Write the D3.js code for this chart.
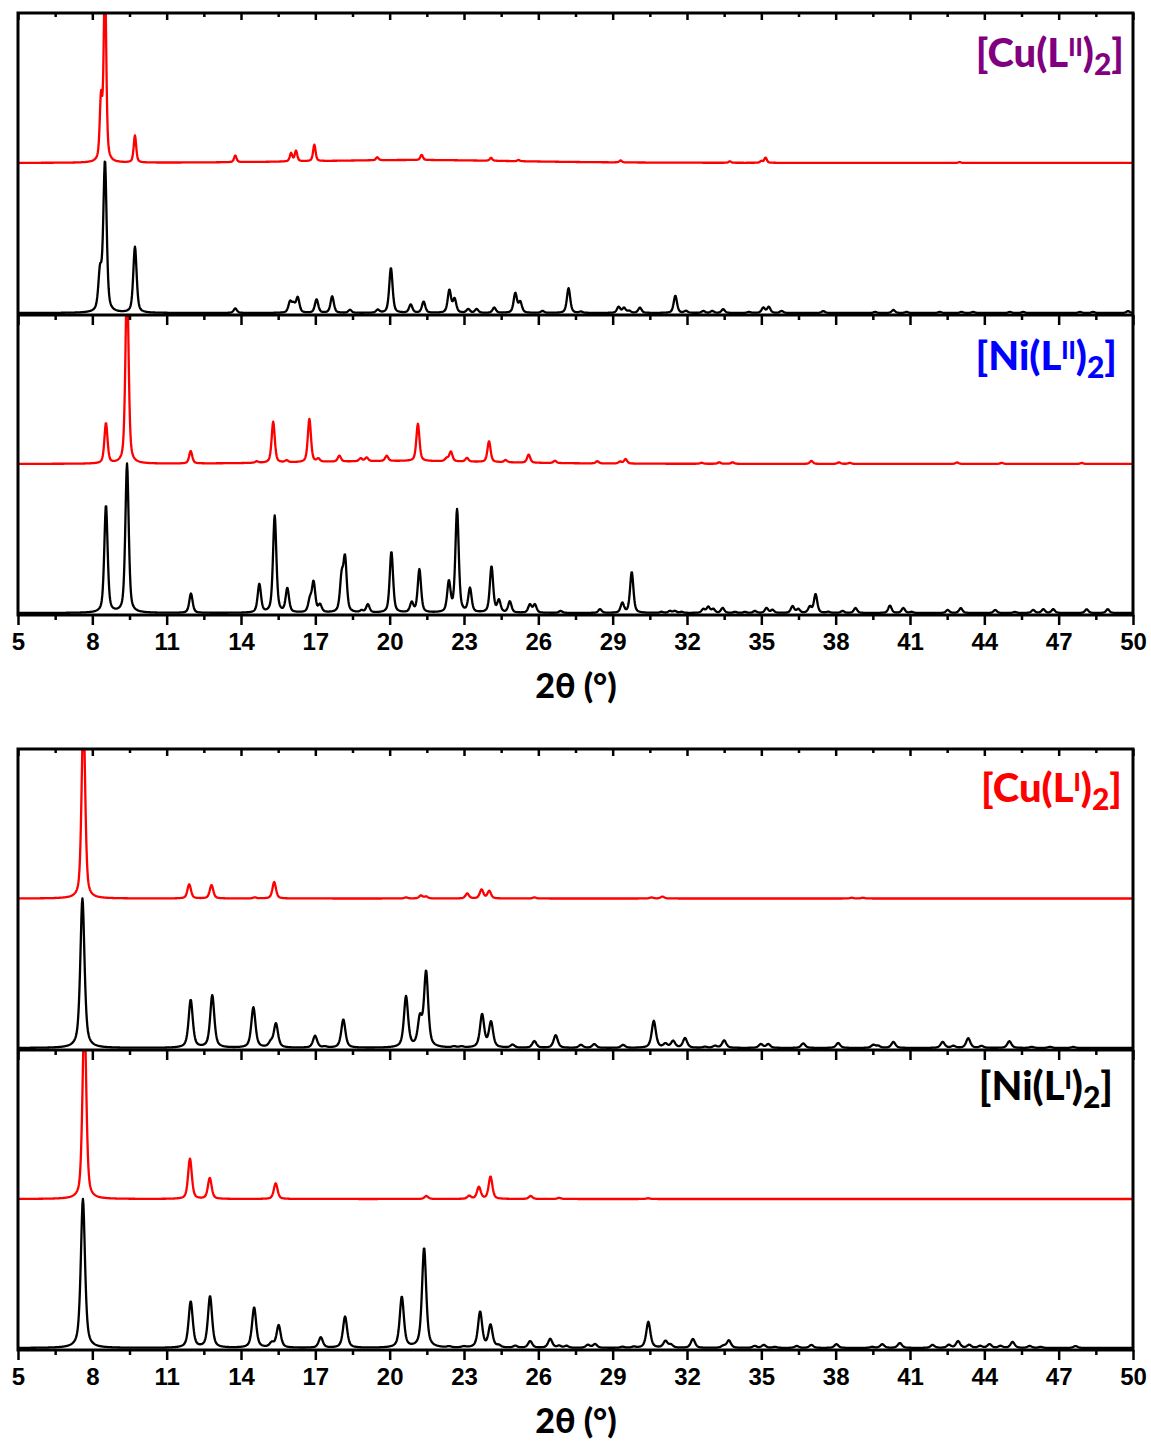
<!DOCTYPE html>
<html>
<head>
<meta charset="utf-8">
<script src="https://cdn.jsdelivr.net/npm/d3@7"></script>
<style>
body { margin: 0; background: #fff; }
svg { display: block; font-family: Lato, "Open Sans", sans-serif; font-weight: 900; }
</style>
</head>
<body>
<script>
// peak lists: [2theta, relative height, (optional fwhm)]
const cuL2ExpPeaks = [[8.35,0.4],[8.51,1.25],[9.72,0.18],[13.77,0.045],[16.02,0.055],[16.22,0.07],[16.96,0.11],[19.5,0.02],[21.29,0.035],[24.09,0.02],[25.2,0.008],[29.32,0.013],[33.73,0.01],[35.0,0.012],[35.17,0.035],[43.0,0.006],[21,0.02,10]];
const cuL2SimPeaks = [[8.31,0.25],[8.51,1.0],[9.72,0.44],[13.77,0.03],[15.98,0.07],[16.12,0.05],[16.29,0.1],[17.05,0.09],[17.68,0.11],[18.4,0.02],[19.52,0.02],[20.05,0.3],[20.85,0.055],[21.37,0.075],[22.41,0.15],[22.62,0.09],[23.17,0.025],[23.51,0.025],[24.22,0.035],[25.07,0.13],[25.27,0.07],[26.17,0.013],[27.22,0.165],[27.72,0.008],[29.24,0.04],[29.46,0.033],[29.67,0.013],[30.1,0.035],[31.53,0.115],[31.96,0.013],[32.66,0.013],[33.02,0.013],[33.46,0.025],[34.5,0.007],[35.08,0.035],[35.3,0.04],[35.82,0.013],[37.5,0.013],[39.59,0.007],[40.33,0.02],[40.86,0.007],[42.2,0.007],[43.08,0.007],[43.55,0.007],[45.03,0.007],[45.57,0.007],[47.86,0.007],[48.39,0.007],[49.8,0.013]];
const niL2ExpPeaks = [[8.55,0.27],[9.40,1.25],[11.97,0.083],[14.63,0.01],[15.3,0.275],[15.84,0.013],[16.76,0.29],[17.12,0.02],[17.97,0.04],[18.83,0.02],[19.07,0.025],[19.88,0.035],[21.14,0.25],[22.3,0.02],[22.47,0.065],[23.12,0.025],[24.01,0.14],[24.68,0.015],[25.61,0.055],[26.67,0.015],[28.38,0.015],[29.3,0.013],[29.52,0.03],[32.59,0.007],[33.3,0.01],[33.84,0.01],[37.02,0.02],[38.13,0.01],[38.57,0.007],[42.9,0.01],[44.7,0.007],[47.93,0.007],[20.5,0.02,9]];
const niL2SimPeaks = [[8.55,0.72],[9.40,1.0],[11.98,0.13],[14.74,0.19],[15.36,0.65],[15.87,0.16],[16.78,0.08],[16.93,0.2],[17.19,0.05],[18.06,0.22],[18.2,0.35],[18.87,0.013],[19.12,0.055],[20.07,0.41],[20.89,0.065],[21.2,0.29],[22.39,0.2],[22.72,0.69],[23.24,0.16],[24.11,0.31],[24.41,0.08],[24.85,0.075],[25.66,0.055],[25.86,0.055],[26.9,0.013],[28.49,0.025],[29.39,0.065],[29.77,0.275],[30.97,0.007],[31.31,0.013],[31.51,0.013],[31.78,0.007],[32.66,0.025],[32.86,0.04],[33.06,0.025],[33.44,0.033],[33.94,0.007],[34.34,0.007],[34.74,0.013],[35.21,0.033],[35.45,0.02],[36.26,0.045],[36.49,0.025],[36.96,0.04],[37.19,0.125],[37.7,0.007],[38.28,0.013],[38.8,0.033],[40.19,0.05],[40.73,0.033],[41.06,0.007],[42.52,0.02],[43.05,0.033],[44.44,0.02],[45.23,0.007],[45.97,0.02],[46.38,0.025],[46.78,0.025],[48.13,0.025],[48.98,0.025]];
const cuL1ExpPeaks = [[7.64,1.25],[11.91,0.095],[12.81,0.09],[14.56,0.007],[15.34,0.11],[20.66,0.007],[21.26,0.02],[21.47,0.013],[23.13,0.033],[23.71,0.06],[24.02,0.05],[25.84,0.007],[30.57,0.007],[31.01,0.013],[38.65,0.005],[39.1,0.005]];
const cuL1SimPeaks = [[7.6,1.0],[11.97,0.32],[12.84,0.35],[14.5,0.27],[15.2,0.03],[15.41,0.16],[16.99,0.08],[17.39,0.007],[18.13,0.19],[20.66,0.34],[21.22,0.18],[21.47,0.5],[22.6,0.007],[22.9,0.007],[23.73,0.22],[24.09,0.17],[24.96,0.02],[25.84,0.045],[26.7,0.085],[27.72,0.02],[28.26,0.025],[29.42,0.02],[30.66,0.18],[31.13,0.025],[31.44,0.045],[31.92,0.065],[32.73,0.007],[33.13,0.013],[33.5,0.05],[34.98,0.025],[35.28,0.025],[36.69,0.03],[38.1,0.033],[39.52,0.02],[39.72,0.013],[40.33,0.04],[42.32,0.04],[42.75,0.013],[43.35,0.065],[43.89,0.013],[45.01,0.045],[45.91,0.007],[46.65,0.007],[47.59,0.007]];
const niL1ExpPeaks = [[7.68,1.25],[11.94,0.27],[12.74,0.14],[15.4,0.105],[21.48,0.02],[23.21,0.02],[23.6,0.08],[24.07,0.15],[25.69,0.02],[26.84,0.007],[30.43,0.005]];
const niL1SimPeaks = [[7.62,1.0],[11.97,0.31],[12.75,0.345],[14.53,0.27],[15.24,0.03],[15.52,0.15],[17.22,0.07],[18.2,0.21],[20.49,0.34],[21.39,0.67],[22.4,0.007],[22.99,0.007],[23.65,0.24],[24.07,0.15],[24.4,0.013],[25.07,0.013],[25.67,0.045],[26.48,0.06],[26.84,0.013],[27.14,0.013],[28.0,0.02],[28.29,0.025],[29.4,0.007],[29.85,0.007],[30.44,0.175],[31.13,0.045],[31.35,0.02],[32.24,0.06],[33.47,0.013],[33.69,0.05],[34.73,0.013],[35.1,0.02],[35.55,0.007],[36.43,0.013],[37.02,0.02],[38.03,0.025],[39.47,0.007],[39.88,0.025],[40.59,0.033],[41.91,0.02],[42.57,0.02],[42.94,0.045],[43.39,0.02],[43.83,0.013],[44.21,0.025],[44.65,0.013],[45.14,0.04],[45.83,0.013],[46.27,0.007],[47.68,0.013]];

const xTickValues = [5,8,11,14,17,20,23,26,29,32,35,38,41,44,47,50];
const labelMetals = ["Cu","Ni","Cu","Ni"];
const labelLigands = ["II","II","I","I"];
const axisTitle = "2\u03b8 (\u00b0)";

const W = 1151, H = 1441;
const left = 18, right = 1133;
const figures = [{top: 13, mid: 315, bottom: 615}, {top: 749, mid: 1050, bottom: 1350}];
const subplots = [
    {top: 13, bottom: 315, exp: cuL2ExpPeaks, sim: cuL2SimPeaks, expW: 0.12, simW: 0.16, simEta: 0.5, color: "#800080", lx: 1124, ly: 67},
    {top: 315, bottom: 615, exp: niL2ExpPeaks, sim: niL2SimPeaks, expW: 0.15, simW: 0.16, simEta: 0.5, color: "#0000ff", lx: 1117, ly: 370},
    {top: 749, bottom: 1050, exp: cuL1ExpPeaks, sim: cuL1SimPeaks, expW: 0.17, simW: 0.2, simEta: 0.6, color: "#ff0000", lx: 1122, ly: 802},
    {top: 1050, bottom: 1350, exp: niL1ExpPeaks, sim: niL1SimPeaks, expW: 0.18, simW: 0.2, simEta: 0.6, color: "#000000", lx: 1113, ly: 1100}
];

const svg = d3.select("body").append("svg").attr("width", W).attr("height", H);
const x = d3.scaleLinear().domain([5, 50]).range([left, right]);
const grid = d3.range(5, 50.0001, 0.02);

function pattern(peaks, fwhm, eta) {
    return grid.map(t => [t, d3.sum(peaks, p => {
        const u = (t - p[0]) / (p[2] || fwhm);
        return p[1] * (eta / (1 + 4 * u * u) + (1 - eta) * Math.exp(-4 * Math.LN2 * u * u));
    })]);
}

subplots.forEach((s, i) => {
    const y = d3.scaleLinear().domain([0, 2]).range([s.bottom - 2, s.top]);
    svg.append("clipPath").attr("id", "clip" + i)
        .append("rect").attr("x", left).attr("y", s.top).attr("width", right - left).attr("height", s.bottom - s.top);
    const g = svg.append("g").attr("clip-path", `url(#clip${i})`);
    const simLine = d3.line().x(d => x(d[0])).y(d => y(d[1]));
    const expLine = d3.line().x(d => x(d[0])).y(d => y(1 + d[1]));
    g.append("path").attr("d", simLine(pattern(s.sim, s.simW, s.simEta)))
        .attr("fill", "none").attr("stroke", "#000").attr("stroke-width", 2.3).attr("stroke-linejoin", "round");
    g.append("path").attr("d", expLine(pattern(s.exp, s.expW, 0.5)))
        .attr("fill", "none").attr("stroke", "#ff0000").attr("stroke-width", 2.3).attr("stroke-linejoin", "round");

    const t = svg.append("text").attr("x", s.lx).attr("y", s.ly)
        .attr("text-anchor", "end").attr("fill", s.color).style("font-size", "40px");
    t.append("tspan").text("[" + labelMetals[i] + "(L");
    t.append("tspan").attr("dy", -11).style("font-size", "24px").text(labelLigands[i]);
    t.append("tspan").attr("dy", 11).text(")");
    t.append("tspan").attr("dy", 8).style("font-size", "30px").text("2");
    t.append("tspan").attr("dy", -8).text("]");
});

const minorTicks = d3.range(6.5, 50, 3);
function ticks(yPos, majorLen, minorLen, labels) {
    const major = svg.append("g").attr("transform", `translate(0,${yPos})`)
        .call(d3.axisBottom(x).tickValues(xTickValues).tickSize(majorLen).tickPadding(8)
            .tickFormat(labels ? d3.format("d") : ""));
    const minor = svg.append("g").attr("transform", `translate(0,${yPos})`)
        .call(d3.axisBottom(x).tickValues(minorTicks).tickSize(minorLen).tickFormat(""));
    [major, minor].forEach(a => {
        a.select(".domain").remove();
        a.selectAll("line").attr("stroke", "#000").attr("stroke-width", 2.5);
    });
    major.selectAll("text").attr("fill", "#000").style("font-size", "24px").style("font-family", null);
}

figures.forEach(f => {
    ticks(f.top, 7, 4, false);
    ticks(f.mid, 10, 5, false);
    ticks(f.bottom, 10, 5, true);
    svg.append("rect").attr("x", left).attr("y", f.top).attr("width", right - left).attr("height", f.bottom - f.top)
        .attr("fill", "none").attr("stroke", "#000").attr("stroke-width", 3);
    svg.append("line").attr("x1", left).attr("x2", right).attr("y1", f.mid).attr("y2", f.mid)
        .attr("stroke", "#000").attr("stroke-width", 3);
    svg.append("text").attr("x", 576).attr("y", f.bottom + 83).attr("text-anchor", "middle")
        .style("font-size", "34px").text(axisTitle);
});
</script>
</body>
</html>
